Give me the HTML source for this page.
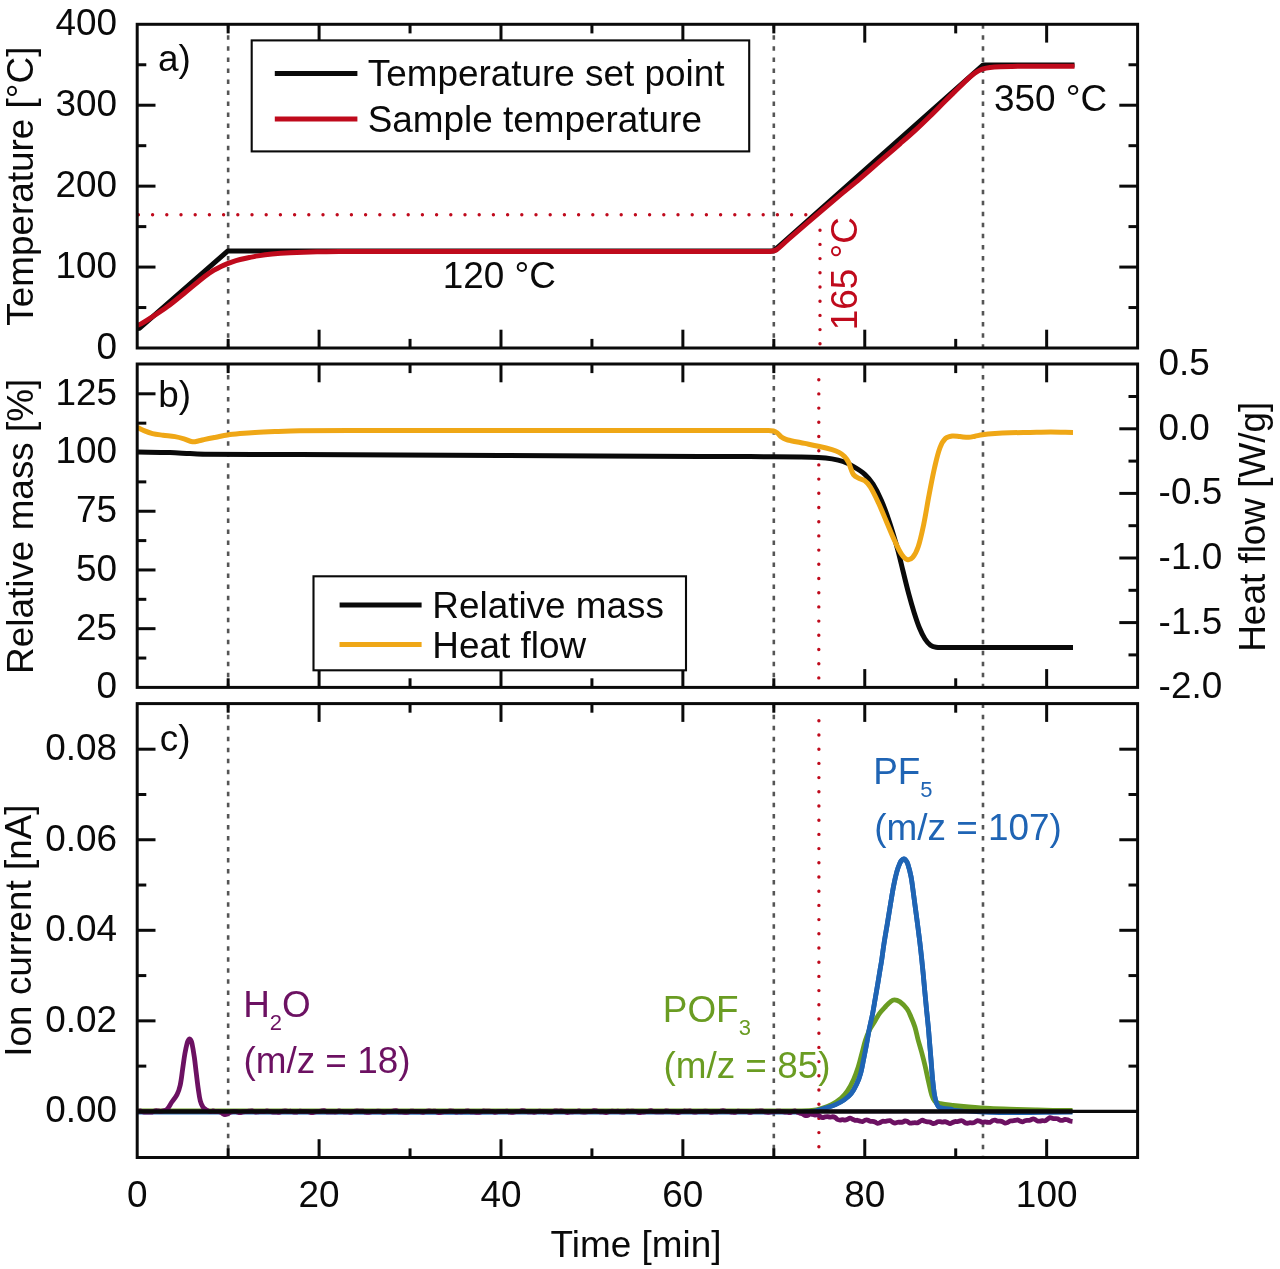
<!DOCTYPE html>
<html lang="en">
<head>
<meta charset="utf-8">
<title>Thermal analysis: temperature, relative mass / heat flow, ion current vs. time</title>
<style>
html,body{margin:0;padding:0;background:#fff;}
body{width:1280px;height:1269px;overflow:hidden;}
svg{display:block;}
svg text{font-family:"Liberation Sans",sans-serif;}
</style>
</head>
<body>
<svg width="1280" height="1269" viewBox="0 0 1280 1269">
<rect x="0" y="0" width="1280" height="1269" fill="#ffffff"/>
<line x1="228.15" y1="24.3" x2="228.15" y2="348" stroke="#555555" stroke-width="2.6" stroke-dasharray="4.5 6.53"/>
<line x1="773.82" y1="24.3" x2="773.82" y2="348" stroke="#555555" stroke-width="2.6" stroke-dasharray="4.5 6.53"/>
<line x1="982.99" y1="24.3" x2="982.99" y2="348" stroke="#555555" stroke-width="2.6" stroke-dasharray="4.5 6.53"/>
<line x1="138.4" y1="214.8" x2="812" y2="214.8" stroke="#bf0a1c" stroke-width="3.4" stroke-linecap="round" stroke-dasharray="0 14.2"/>
<path d="M137.2 328.4L139.6 328.2L227.85 250.9L773.82 250.9L983.19 64.9L1074.5 64.9" fill="none" stroke="#0a0a0a" stroke-width="5" stroke-linejoin="round" stroke-linecap="butt" />
<path d="M137.2 325.4C138.47 324.9 139.81 324.55 141 323.9C144.08 322.21 147.06 320.32 150 318.4C155.89 314.55 161.84 310.78 167.5 306.6C173.85 301.91 179.87 296.77 186 291.8C192.37 286.64 198.51 281.21 205 276.2C207.85 274 210.93 272.08 214 270.2C216.26 268.81 218.61 267.57 221 266.4C223.12 265.36 225.3 264.45 227.5 263.6C230.3 262.52 233.12 261.44 236 260.6C239.29 259.64 242.65 258.92 246 258.2C249.98 257.35 253.98 256.53 258 255.9C262.65 255.17 267.32 254.55 272 254.1C277.99 253.52 283.99 253.11 290 252.8C298.99 252.34 308 252.01 317 251.8C328 251.54 339 251.53 350 251.4L770.82 251.4C772.65 250.9 774.77 251 776.32 249.9C781.28 246.38 785.4 241.79 790 237.8C799.96 229.16 809.96 220.55 820 212C826.63 206.35 833.32 200.78 840 195.2C846.65 189.65 853.4 184.21 860 178.6C866.73 172.88 873.33 167 880 161.2C886.67 155.4 893.36 149.63 900 143.8C905.36 139.1 910.75 134.43 916 129.6C920.75 125.23 925.38 120.72 930 116.2C935.05 111.25 939.98 106.18 945 101.2C948.31 97.91 951.66 94.66 955 91.4C958 88.46 960.96 85.49 964 82.6C966.63 80.09 969.18 77.49 972 75.2C973.86 73.68 975.91 72.39 978 71.2C979.59 70.29 981.25 69.44 983 68.9C985.27 68.2 987.64 67.81 990 67.5C993.32 67.07 996.66 66.87 1000 66.7C1004 66.5 1008 66.46 1012 66.4C1017.33 66.32 1022.67 66.33 1028 66.3C1035.33 66.26 1042.67 66.22 1050 66.2C1058.17 66.18 1066.33 66.2 1074.5 66.2" fill="none" stroke="#bf0a1c" stroke-width="5" stroke-linejoin="round" stroke-linecap="butt" />
<line x1="820" y1="230.2" x2="820" y2="348" stroke="#bf0a1c" stroke-width="3.4" stroke-linecap="round" stroke-dasharray="0 14.2"/>
<line x1="228.15" y1="24.3" x2="228.15" y2="33.4" stroke="#0a0a0a" stroke-width="3" />
<line x1="228.15" y1="348" x2="228.15" y2="338.9" stroke="#0a0a0a" stroke-width="3" />
<line x1="319.09" y1="24.3" x2="319.09" y2="42.6" stroke="#0a0a0a" stroke-width="3" />
<line x1="319.09" y1="348" x2="319.09" y2="329.7" stroke="#0a0a0a" stroke-width="3" />
<line x1="410.04" y1="24.3" x2="410.04" y2="33.4" stroke="#0a0a0a" stroke-width="3" />
<line x1="410.04" y1="348" x2="410.04" y2="338.9" stroke="#0a0a0a" stroke-width="3" />
<line x1="500.98" y1="24.3" x2="500.98" y2="42.6" stroke="#0a0a0a" stroke-width="3" />
<line x1="500.98" y1="348" x2="500.98" y2="329.7" stroke="#0a0a0a" stroke-width="3" />
<line x1="591.93" y1="24.3" x2="591.93" y2="33.4" stroke="#0a0a0a" stroke-width="3" />
<line x1="591.93" y1="348" x2="591.93" y2="338.9" stroke="#0a0a0a" stroke-width="3" />
<line x1="682.87" y1="24.3" x2="682.87" y2="42.6" stroke="#0a0a0a" stroke-width="3" />
<line x1="682.87" y1="348" x2="682.87" y2="329.7" stroke="#0a0a0a" stroke-width="3" />
<line x1="773.82" y1="24.3" x2="773.82" y2="33.4" stroke="#0a0a0a" stroke-width="3" />
<line x1="773.82" y1="348" x2="773.82" y2="338.9" stroke="#0a0a0a" stroke-width="3" />
<line x1="864.76" y1="24.3" x2="864.76" y2="42.6" stroke="#0a0a0a" stroke-width="3" />
<line x1="864.76" y1="348" x2="864.76" y2="329.7" stroke="#0a0a0a" stroke-width="3" />
<line x1="955.71" y1="24.3" x2="955.71" y2="33.4" stroke="#0a0a0a" stroke-width="3" />
<line x1="955.71" y1="348" x2="955.71" y2="338.9" stroke="#0a0a0a" stroke-width="3" />
<line x1="1046.65" y1="24.3" x2="1046.65" y2="42.6" stroke="#0a0a0a" stroke-width="3" />
<line x1="1046.65" y1="348" x2="1046.65" y2="329.7" stroke="#0a0a0a" stroke-width="3" />
<line x1="137.2" y1="267.07" x2="155.5" y2="267.07" stroke="#0a0a0a" stroke-width="3" />
<line x1="1137.6" y1="267.07" x2="1119.3" y2="267.07" stroke="#0a0a0a" stroke-width="3" />
<line x1="137.2" y1="186.15" x2="155.5" y2="186.15" stroke="#0a0a0a" stroke-width="3" />
<line x1="1137.6" y1="186.15" x2="1119.3" y2="186.15" stroke="#0a0a0a" stroke-width="3" />
<line x1="137.2" y1="105.22" x2="155.5" y2="105.22" stroke="#0a0a0a" stroke-width="3" />
<line x1="1137.6" y1="105.22" x2="1119.3" y2="105.22" stroke="#0a0a0a" stroke-width="3" />
<line x1="137.2" y1="307.54" x2="146.3" y2="307.54" stroke="#0a0a0a" stroke-width="3" />
<line x1="1137.6" y1="307.54" x2="1128.5" y2="307.54" stroke="#0a0a0a" stroke-width="3" />
<line x1="137.2" y1="226.61" x2="146.3" y2="226.61" stroke="#0a0a0a" stroke-width="3" />
<line x1="1137.6" y1="226.61" x2="1128.5" y2="226.61" stroke="#0a0a0a" stroke-width="3" />
<line x1="137.2" y1="145.69" x2="146.3" y2="145.69" stroke="#0a0a0a" stroke-width="3" />
<line x1="1137.6" y1="145.69" x2="1128.5" y2="145.69" stroke="#0a0a0a" stroke-width="3" />
<line x1="137.2" y1="64.76" x2="146.3" y2="64.76" stroke="#0a0a0a" stroke-width="3" />
<line x1="1137.6" y1="64.76" x2="1128.5" y2="64.76" stroke="#0a0a0a" stroke-width="3" />
<rect x="137.2" y="24.3" width="1000.4" height="323.7" fill="none" stroke="#0a0a0a" stroke-width="3"/>
<rect x="251.7" y="40.4" width="497.5" height="111.0" fill="#fff" stroke="#0a0a0a" stroke-width="2.1"/>
<line x1="274.8" y1="73.4" x2="357.4" y2="73.4" stroke="#0a0a0a" stroke-width="5" />
<line x1="274.8" y1="119" x2="357.4" y2="119" stroke="#bf0a1c" stroke-width="5" />
<text x="367.7" y="85.6" text-anchor="start" fill="#0a0a0a" font-size="36.9" >Temperature set point</text>
<text x="367.7" y="131.6" text-anchor="start" fill="#0a0a0a" font-size="36.9" >Sample temperature</text>
<text x="158" y="71.2" text-anchor="start" fill="#0a0a0a" font-size="36.9" >a)</text>
<text x="442.7" y="287.8" text-anchor="start" fill="#0a0a0a" font-size="36.9" >120 °C</text>
<text x="994" y="110.6" text-anchor="start" fill="#0a0a0a" font-size="36.9" >350 °C</text>
<text x="857.2" y="330.2" text-anchor="start" fill="#bf0a1c" font-size="36.9" transform="rotate(-90 857.2 330.2)" >165 °C</text>
<text x="117" y="358.5" text-anchor="end" fill="#0a0a0a" font-size="36.9" >0</text>
<text x="117" y="277.57" text-anchor="end" fill="#0a0a0a" font-size="36.9" >100</text>
<text x="117" y="196.65" text-anchor="end" fill="#0a0a0a" font-size="36.9" >200</text>
<text x="117" y="115.72" text-anchor="end" fill="#0a0a0a" font-size="36.9" >300</text>
<text x="117" y="34.8" text-anchor="end" fill="#0a0a0a" font-size="36.9" >400</text>
<text x="33.4" y="186.15" text-anchor="middle" fill="#0a0a0a" font-size="36.9" transform="rotate(-90 33.4 186.15)" >Temperature [°C]</text>
<line x1="228.15" y1="364" x2="228.15" y2="687.4" stroke="#555555" stroke-width="2.6" stroke-dasharray="4.5 6.53"/>
<line x1="773.82" y1="364" x2="773.82" y2="687.4" stroke="#555555" stroke-width="2.6" stroke-dasharray="4.5 6.53"/>
<line x1="982.99" y1="364" x2="982.99" y2="687.4" stroke="#555555" stroke-width="2.6" stroke-dasharray="4.5 6.53"/>
<line x1="818.8" y1="379.7" x2="818.8" y2="687.4" stroke="#bf0a1c" stroke-width="3.4" stroke-linecap="round" stroke-dasharray="0 14.2"/>
<path d="M137.2 452C148.13 452.2 159.07 452.27 170 452.6C176.67 452.8 183.33 453.3 190 453.6C195 453.83 200 454.15 205 454.2C236.67 454.49 268.33 454.47 300 454.6C366.67 454.87 433.33 455.1 500 455.4C566.67 455.7 633.33 456.08 700 456.4C716.67 456.48 733.33 456.5 750 456.6C766.67 456.7 783.33 456.78 800 457C806.14 457.08 812.28 457.14 818.4 457.5C822.95 457.77 827.5 458.17 832 458.9C835.72 459.5 839.45 460.23 843 461.5C846.83 462.88 850.49 464.74 854 466.8C857.78 469.02 861.57 471.34 864.8 474.3C867.96 477.19 870.7 480.58 873 484.2C876.24 489.3 878.9 494.76 881.3 500.3C884.4 507.45 887.04 514.81 889.5 522.2C892.5 531.21 895.17 540.34 897.7 549.5C899.7 556.75 901.28 564.1 903.1 571.4C904.92 578.7 906.65 586.03 908.6 593.3C910.32 599.7 912.11 606.08 914.1 612.4C915.75 617.65 917.41 622.91 919.5 628C921.05 631.79 922.79 635.55 925 639C926.49 641.33 928.29 643.54 930.5 645.2C932.07 646.38 934.06 646.99 936 647.3C938.96 647.77 942 647.5 945 647.5C987.67 647.56 1030.33 647.5 1073 647.5" fill="none" stroke="#0a0a0a" stroke-width="5" stroke-linejoin="round" stroke-linecap="butt" />
<path d="M137.2 427.3C139.47 428.4 141.67 429.64 144 430.6C146.78 431.74 149.58 432.89 152.5 433.6C155.94 434.43 159.49 434.73 163 435.2C166.99 435.73 171.03 435.92 175 436.6C178.04 437.12 181.04 437.92 184 438.8C186.88 439.66 189.52 441.4 192.5 441.8C194.67 442.09 196.85 441.21 199 440.8C201.02 440.41 202.99 439.83 205 439.4C208.66 438.63 212.33 437.92 216 437.2C219.83 436.45 223.64 435.58 227.5 435C231.65 434.38 235.83 433.99 240 433.6C244.99 433.13 249.99 432.7 255 432.4C261.66 432 268.33 431.74 275 431.5C283.33 431.2 291.66 430.86 300 430.8C333.33 430.56 366.67 430.62 400 430.6C466.67 430.56 533.33 430.6 600 430.6C656 430.6 712 430.47 768 430.6C769.8 430.6 771.65 430.55 773.4 431C774.81 431.37 776.13 432.12 777.3 433C778.83 434.15 779.86 435.87 781.4 437C782.79 438.02 784.39 438.78 786 439.4C787.61 440.02 789.32 440.34 791 440.7C795.55 441.67 800.14 442.48 804.7 443.4C809.27 444.32 813.86 445.15 818.4 446.2C822.96 447.25 827.52 448.35 832 449.7C834.39 450.42 836.8 451.22 839 452.4C841 453.47 842.91 454.78 844.5 456.4C846.09 458.03 847.36 459.98 848.4 462C849.54 464.21 850.07 466.69 851 469C851.77 470.89 852.24 472.99 853.5 474.6C854.65 476.06 856.37 477.01 858 477.9C860.16 479.09 862.82 479.33 864.8 480.8C867.02 482.44 868.85 484.65 870.3 487C873.45 492.1 875.97 497.57 878.5 503C881.44 509.31 883.96 515.8 886.7 522.2C889.43 528.57 891.97 535.02 894.9 541.3C897.01 545.83 899.01 550.45 901.8 554.6C903.17 556.64 904.82 558.99 907.2 559.6C909.11 560.09 911.41 558.9 912.7 557.4C915.29 554.38 916.93 550.57 918.2 546.8C920.59 539.67 922.06 532.26 923.6 524.9C925.69 514.92 927.18 504.82 929.1 494.8C930.85 485.68 932.51 476.54 934.6 467.5C936.15 460.8 937.59 454.04 940 447.6C941.25 444.25 942.9 440.85 945.5 438.4C947.25 436.75 949.91 436.3 952.3 436C954.85 435.68 957.43 436.4 960 436.6C962.93 436.83 965.86 437.38 968.8 437.3C970.9 437.24 972.94 436.58 975 436.2C977.47 435.75 979.91 435.12 982.4 434.8C986.58 434.26 990.79 433.91 995 433.6C999.93 433.24 1004.86 432.97 1009.8 432.8C1016.53 432.57 1023.27 432.53 1030 432.4C1036.93 432.26 1043.87 432 1050.8 432C1058.2 432 1065.6 432.27 1073 432.4" fill="none" stroke="#efa716" stroke-width="5" stroke-linejoin="round" stroke-linecap="butt" />
<line x1="228.15" y1="364" x2="228.15" y2="373.1" stroke="#0a0a0a" stroke-width="3" />
<line x1="228.15" y1="687.4" x2="228.15" y2="678.3" stroke="#0a0a0a" stroke-width="3" />
<line x1="319.09" y1="364" x2="319.09" y2="382.3" stroke="#0a0a0a" stroke-width="3" />
<line x1="319.09" y1="687.4" x2="319.09" y2="669.1" stroke="#0a0a0a" stroke-width="3" />
<line x1="410.04" y1="364" x2="410.04" y2="373.1" stroke="#0a0a0a" stroke-width="3" />
<line x1="410.04" y1="687.4" x2="410.04" y2="678.3" stroke="#0a0a0a" stroke-width="3" />
<line x1="500.98" y1="364" x2="500.98" y2="382.3" stroke="#0a0a0a" stroke-width="3" />
<line x1="500.98" y1="687.4" x2="500.98" y2="669.1" stroke="#0a0a0a" stroke-width="3" />
<line x1="591.93" y1="364" x2="591.93" y2="373.1" stroke="#0a0a0a" stroke-width="3" />
<line x1="591.93" y1="687.4" x2="591.93" y2="678.3" stroke="#0a0a0a" stroke-width="3" />
<line x1="682.87" y1="364" x2="682.87" y2="382.3" stroke="#0a0a0a" stroke-width="3" />
<line x1="682.87" y1="687.4" x2="682.87" y2="669.1" stroke="#0a0a0a" stroke-width="3" />
<line x1="773.82" y1="364" x2="773.82" y2="373.1" stroke="#0a0a0a" stroke-width="3" />
<line x1="773.82" y1="687.4" x2="773.82" y2="678.3" stroke="#0a0a0a" stroke-width="3" />
<line x1="864.76" y1="364" x2="864.76" y2="382.3" stroke="#0a0a0a" stroke-width="3" />
<line x1="864.76" y1="687.4" x2="864.76" y2="669.1" stroke="#0a0a0a" stroke-width="3" />
<line x1="955.71" y1="364" x2="955.71" y2="373.1" stroke="#0a0a0a" stroke-width="3" />
<line x1="955.71" y1="687.4" x2="955.71" y2="678.3" stroke="#0a0a0a" stroke-width="3" />
<line x1="1046.65" y1="364" x2="1046.65" y2="382.3" stroke="#0a0a0a" stroke-width="3" />
<line x1="1046.65" y1="687.4" x2="1046.65" y2="669.1" stroke="#0a0a0a" stroke-width="3" />
<line x1="137.2" y1="628.68" x2="155.5" y2="628.68" stroke="#0a0a0a" stroke-width="3" />
<line x1="137.2" y1="569.96" x2="155.5" y2="569.96" stroke="#0a0a0a" stroke-width="3" />
<line x1="137.2" y1="511.24" x2="155.5" y2="511.24" stroke="#0a0a0a" stroke-width="3" />
<line x1="137.2" y1="452.52" x2="155.5" y2="452.52" stroke="#0a0a0a" stroke-width="3" />
<line x1="137.2" y1="393.8" x2="155.5" y2="393.8" stroke="#0a0a0a" stroke-width="3" />
<line x1="137.2" y1="658.04" x2="146.3" y2="658.04" stroke="#0a0a0a" stroke-width="3" />
<line x1="137.2" y1="599.32" x2="146.3" y2="599.32" stroke="#0a0a0a" stroke-width="3" />
<line x1="137.2" y1="540.6" x2="146.3" y2="540.6" stroke="#0a0a0a" stroke-width="3" />
<line x1="137.2" y1="481.88" x2="146.3" y2="481.88" stroke="#0a0a0a" stroke-width="3" />
<line x1="137.2" y1="423.16" x2="146.3" y2="423.16" stroke="#0a0a0a" stroke-width="3" />
<line x1="1137.6" y1="428.8" x2="1119.3" y2="428.8" stroke="#0a0a0a" stroke-width="3" />
<line x1="1137.6" y1="493.4" x2="1119.3" y2="493.4" stroke="#0a0a0a" stroke-width="3" />
<line x1="1137.6" y1="558" x2="1119.3" y2="558" stroke="#0a0a0a" stroke-width="3" />
<line x1="1137.6" y1="622.6" x2="1119.3" y2="622.6" stroke="#0a0a0a" stroke-width="3" />
<line x1="1137.6" y1="396.5" x2="1128.5" y2="396.5" stroke="#0a0a0a" stroke-width="3" />
<line x1="1137.6" y1="461.1" x2="1128.5" y2="461.1" stroke="#0a0a0a" stroke-width="3" />
<line x1="1137.6" y1="525.7" x2="1128.5" y2="525.7" stroke="#0a0a0a" stroke-width="3" />
<line x1="1137.6" y1="590.3" x2="1128.5" y2="590.3" stroke="#0a0a0a" stroke-width="3" />
<line x1="1137.6" y1="654.9" x2="1128.5" y2="654.9" stroke="#0a0a0a" stroke-width="3" />
<rect x="137.2" y="364" width="1000.4" height="323.4" fill="none" stroke="#0a0a0a" stroke-width="3"/>
<rect x="313.5" y="576.3" width="372.5" height="94.0" fill="#fff" stroke="#0a0a0a" stroke-width="2.1"/>
<line x1="339.6" y1="605" x2="421.6" y2="605" stroke="#0a0a0a" stroke-width="5" />
<line x1="339.5" y1="644.6" x2="421.6" y2="644.6" stroke="#efa716" stroke-width="5" />
<text x="432.3" y="618.1" text-anchor="start" fill="#0a0a0a" font-size="36.9" >Relative mass</text>
<text x="432.3" y="657.5" text-anchor="start" fill="#0a0a0a" font-size="36.9" >Heat flow</text>
<text x="158.2" y="407" text-anchor="start" fill="#0a0a0a" font-size="36.9" >b)</text>
<text x="117" y="698.3" text-anchor="end" fill="#0a0a0a" font-size="36.9" >0</text>
<text x="117" y="639.58" text-anchor="end" fill="#0a0a0a" font-size="36.9" >25</text>
<text x="117" y="580.86" text-anchor="end" fill="#0a0a0a" font-size="36.9" >50</text>
<text x="117" y="522.14" text-anchor="end" fill="#0a0a0a" font-size="36.9" >75</text>
<text x="117" y="463.42" text-anchor="end" fill="#0a0a0a" font-size="36.9" >100</text>
<text x="117" y="404.7" text-anchor="end" fill="#0a0a0a" font-size="36.9" >125</text>
<text x="1158.6" y="375.1" text-anchor="start" fill="#0a0a0a" font-size="36.9" >0.5</text>
<text x="1158.6" y="439.7" text-anchor="start" fill="#0a0a0a" font-size="36.9" >0.0</text>
<text x="1158.6" y="504.3" text-anchor="start" fill="#0a0a0a" font-size="36.9" >-0.5</text>
<text x="1158.6" y="568.9" text-anchor="start" fill="#0a0a0a" font-size="36.9" >-1.0</text>
<text x="1158.6" y="633.5" text-anchor="start" fill="#0a0a0a" font-size="36.9" >-1.5</text>
<text x="1158.6" y="698.1" text-anchor="start" fill="#0a0a0a" font-size="36.9" >-2.0</text>
<text x="33.3" y="526.3" text-anchor="middle" fill="#0a0a0a" font-size="36.9" transform="rotate(-90 33.3 526.3)" >Relative mass [%]</text>
<text x="1264.6" y="526.7" text-anchor="middle" fill="#0a0a0a" font-size="36.9" transform="rotate(-90 1264.6 526.7)" >Heat flow [W/g]</text>
<line x1="228.15" y1="703.6" x2="228.15" y2="1157.5" stroke="#555555" stroke-width="2.6" stroke-dasharray="4.5 6.53"/>
<line x1="773.82" y1="703.6" x2="773.82" y2="1157.5" stroke="#555555" stroke-width="2.6" stroke-dasharray="4.5 6.53"/>
<line x1="982.99" y1="703.6" x2="982.99" y2="1157.5" stroke="#555555" stroke-width="2.6" stroke-dasharray="4.5 6.53"/>
<line x1="818.9" y1="720.8" x2="818.9" y2="1157.5" stroke="#bf0a1c" stroke-width="3.4" stroke-linecap="round" stroke-dasharray="0 14.2"/>
<path d="M137.2 1112.1C358.13 1112.1 579.07 1112.46 800 1112.1C805.01 1112.09 810.04 1111.74 815 1111C817.94 1110.56 820.76 1109.49 823.6 1108.6C827.59 1107.35 831.65 1106.23 835.5 1104.6C838.51 1103.32 841.42 1101.77 844.1 1099.9C846.69 1098.08 849.23 1096.07 851.2 1093.6C853.48 1090.74 855.16 1087.42 856.7 1084.1C858.34 1080.56 859.65 1076.86 860.7 1073.1C861.89 1068.87 862.53 1064.51 863.4 1060.2C864.36 1055.47 865.3 1050.74 866.2 1046C867.24 1040.51 868.11 1034.98 869.2 1029.5C870.15 1024.72 871.36 1019.99 872.3 1015.2C873.33 1009.95 874.18 1004.67 875.1 999.4C876.02 994.14 876.92 988.87 877.8 983.6C878.55 979.14 879.26 974.67 880 970.2C880.56 966.8 881.19 963.41 881.7 960C882.45 955.01 883.03 949.99 883.8 945C884.89 937.92 886.14 930.87 887.3 923.8C888.38 917.23 889.41 910.66 890.5 904.1C891.51 898.06 892.43 892.01 893.6 886C894.53 881.24 895.51 876.48 896.8 871.8C897.62 868.83 898.66 865.92 899.9 863.1C900.4 861.96 901.13 860.89 902 860C902.5 859.49 903.19 858.96 903.9 859C904.65 859.04 905.33 859.61 905.8 860.2C906.67 861.3 907.37 862.56 907.8 863.9C909.12 868.03 910.18 872.25 911 876.5C912.01 881.73 912.57 887.03 913.3 892.3C914.14 898.33 914.9 904.37 915.7 910.4C916.47 916.17 917.25 921.93 918 927.7C918.62 932.46 919.23 937.23 919.8 942C920.43 947.33 921.03 952.66 921.6 958C922.09 962.6 922.56 967.2 923 971.8C923.63 978.36 924.18 984.93 924.8 991.5C925.42 998.07 926.05 1004.63 926.7 1011.2C927.22 1016.47 927.81 1021.73 928.3 1027C928.78 1032.23 929.17 1037.47 929.6 1042.7C930.07 1048.37 930.54 1054.03 931 1059.7C931.54 1066.27 931.95 1072.84 932.6 1079.4C933.12 1084.68 933.64 1089.97 934.5 1095.2C934.94 1097.85 935.51 1100.51 936.5 1103C937.13 1104.59 937.71 1106.67 939.3 1107.3C943.6 1109 948.4 1109.04 953 1109.5C965.31 1110.74 977.63 1112.13 990 1112.4C1017.49 1113 1045 1112.2 1072.5 1112.1" fill="none" stroke="#1f64b4" stroke-width="4.8" stroke-linejoin="round" stroke-linecap="butt" />
<path d="M137.2 1110.9C356.47 1110.9 575.73 1111.06 795 1110.9C800.67 1110.9 806.36 1110.96 812 1110.4C815.4 1110.06 818.73 1109.17 822 1108.2C825.25 1107.23 828.5 1106.16 831.5 1104.6C834.87 1102.84 838.1 1100.76 841 1098.3C843.41 1096.25 845.54 1093.83 847.3 1091.2C849.77 1087.49 851.77 1083.46 853.6 1079.4C855.44 1075.31 856.95 1071.08 858.3 1066.8C859.86 1061.86 860.96 1056.8 862.3 1051.8C863.36 1047.86 864.22 1043.87 865.5 1040C866.63 1036.59 867.9 1033.21 869.5 1030C870.98 1027.03 872.98 1024.34 874.7 1021.5C876.28 1018.88 877.59 1016.07 879.4 1013.6C881.27 1011.05 883.54 1008.81 885.7 1006.5C887.21 1004.88 888.64 1003.15 890.4 1001.8C891.58 1000.89 892.91 999.8 894.4 999.8C896.35 999.8 898.32 1000.66 899.9 1001.8C902.61 1003.76 905.01 1006.21 907 1008.9C908.73 1011.24 909.74 1014.04 910.9 1016.7C912.37 1020.08 913.8 1023.48 914.9 1027C916.18 1031.1 916.89 1035.35 918 1039.5C919.16 1043.85 920.53 1048.15 921.7 1052.5C922.86 1056.82 923.98 1061.15 925 1065.5C926.28 1070.98 927.34 1076.51 928.6 1082C929.61 1086.41 930.39 1090.9 931.8 1095.2C932.53 1097.44 933.32 1099.85 935 1101.5C936.38 1102.85 938.51 1103.19 940.4 1103.6C944.55 1104.5 948.79 1104.9 953 1105.4C958.26 1106.03 963.52 1106.56 968.8 1107C975.86 1107.59 982.92 1108.15 990 1108.5C998.99 1108.95 1008 1109.12 1017 1109.4C1023.1 1109.59 1029.2 1109.75 1035.3 1109.9C1041.2 1110.05 1047.1 1110.2 1053 1110.3C1059.5 1110.4 1066 1110.43 1072.5 1110.5" fill="none" stroke="#6a9c22" stroke-width="4.8" stroke-linejoin="round" stroke-linecap="butt" />
<path d="M800 1112.1C805 1111.73 810.04 1111.74 815 1111C817.94 1110.56 820.76 1109.49 823.6 1108.6C827.59 1107.35 831.65 1106.23 835.5 1104.6C838.51 1103.32 841.42 1101.77 844.1 1099.9C846.69 1098.08 849.23 1096.07 851.2 1093.6C853.48 1090.74 855.16 1087.42 856.7 1084.1C858.34 1080.56 859.65 1076.86 860.7 1073.1C861.89 1068.87 862.53 1064.51 863.4 1060.2C864.36 1055.47 865.3 1050.74 866.2 1046C867.24 1040.51 868.11 1034.98 869.2 1029.5C870.15 1024.72 871.36 1019.99 872.3 1015.2C873.33 1009.95 874.18 1004.67 875.1 999.4C876.02 994.14 876.92 988.87 877.8 983.6C878.55 979.14 879.26 974.67 880 970.2C880.56 966.8 881.19 963.41 881.7 960C882.45 955.01 883.03 949.99 883.8 945C884.89 937.92 886.14 930.87 887.3 923.8C888.38 917.23 889.41 910.66 890.5 904.1C891.51 898.06 892.43 892.01 893.6 886C894.53 881.24 895.51 876.48 896.8 871.8C897.62 868.83 898.66 865.92 899.9 863.1C900.4 861.96 901.13 860.89 902 860C902.5 859.49 903.19 858.96 903.9 859C904.65 859.04 905.33 859.61 905.8 860.2C906.67 861.3 907.37 862.56 907.8 863.9C909.12 868.03 910.18 872.25 911 876.5C912.01 881.73 912.57 887.03 913.3 892.3C914.14 898.33 914.9 904.37 915.7 910.4C916.47 916.17 917.25 921.93 918 927.7C918.62 932.46 919.23 937.23 919.8 942C920.43 947.33 921.03 952.66 921.6 958C922.09 962.6 922.56 967.2 923 971.8C923.63 978.36 924.18 984.93 924.8 991.5C925.42 998.07 926.05 1004.63 926.7 1011.2C927.22 1016.47 927.81 1021.73 928.3 1027C928.78 1032.23 929.17 1037.47 929.6 1042.7C930.07 1048.37 930.54 1054.03 931 1059.7C931.54 1066.27 931.95 1072.84 932.6 1079.4C933.12 1084.68 933.64 1089.97 934.5 1095.2C934.94 1097.85 935.51 1100.51 936.5 1103C937.13 1104.59 937.71 1106.67 939.3 1107.3C943.6 1109 948.43 1108.77 953 1109.5" fill="none" stroke="#1f64b4" stroke-width="4.8" stroke-linejoin="round" stroke-linecap="butt" />
<path d="M137.2 1111.57C138.2 1111.36 139.18 1110.89 140.2 1110.94C141.24 1110.99 142.17 1111.66 143.2 1111.85C144.19 1112.02 145.2 1111.99 146.2 1112.02C147.2 1112.04 148.2 1112 149.2 1112C150.2 1112.01 151.22 1112.24 152.2 1112.05C153.26 1111.84 154.14 1111.04 155.2 1110.84C156.18 1110.65 157.2 1110.81 158.2 1110.9C159.21 1110.98 160.2 1111.5 161.2 1111.34C163.13 1111.05 165.32 1110.87 166.8 1109.6C168.95 1107.75 169.9 1104.85 171.5 1102.5C173.3 1099.85 175.56 1097.47 177 1094.6C178.49 1091.64 179.48 1088.43 180.2 1085.2C181.36 1080 181.82 1074.67 182.6 1069.4C183.38 1064.14 183.98 1058.84 184.9 1053.6C185.55 1049.9 186.33 1046.22 187.3 1042.6C187.57 1041.61 188.05 1040.67 188.6 1039.8C188.83 1039.44 189.18 1038.96 189.6 1039C190.09 1039.05 190.46 1039.56 190.7 1040C191.28 1041.07 191.75 1042.21 192 1043.4C192.99 1048.1 193.72 1052.85 194.4 1057.6C195.15 1062.82 195.65 1068.07 196.3 1073.3C196.95 1078.57 197.54 1083.85 198.3 1089.1C198.87 1093.05 199.3 1097.04 200.3 1100.9C200.87 1103.11 201.74 1105.3 203 1107.2C203.76 1108.35 205.04 1109.06 206.2 1109.8C207.39 1110.57 208.6 1111.46 210 1111.7C211.01 1111.88 211.97 1110.99 213 1110.99C214.03 1110.99 214.98 1111.6 216 1111.7C217 1111.8 218.02 1111.35 219 1111.57C220.09 1111.81 221.01 1112.52 222 1113.04C223.01 1113.57 223.86 1114.61 225 1114.69C226.08 1114.77 227.01 1113.92 228 1113.48C229.02 1113.03 229.95 1112.4 231 1112.02C231.97 1111.67 232.97 1111.34 234 1111.31C235.02 1111.28 236.01 1111.63 237 1111.86C238.01 1112.09 238.96 1112.68 240 1112.67C241.04 1112.66 241.98 1112.01 243 1111.82C243.99 1111.63 245 1111.63 246 1111.54C247 1111.44 248 1111.34 249 1111.24C250 1111.13 251 1110.79 252 1110.91C253.05 1111.03 253.96 1111.78 255 1111.95C255.99 1112.1 257 1111.93 258 1111.87C259 1111.81 260 1111.63 261 1111.58C262 1111.53 263.01 1111.71 264 1111.58C265.03 1111.45 265.97 1110.81 267 1110.79C268.03 1110.78 269 1111.25 270 1111.48C271 1111.71 271.98 1112.07 273 1112.17C274 1112.26 275 1112.02 276 1112.06C277.01 1112.09 278 1112.49 279 1112.38C280.05 1112.25 280.98 1111.62 282 1111.36C282.98 1111.1 283.98 1110.83 285 1110.83C286.02 1110.83 286.99 1111.29 288 1111.36C289 1111.44 290.01 1111.17 291 1111.28C292.03 1111.4 292.97 1111.93 294 1112.06C294.99 1112.18 296.01 1112.17 297 1112.02C298.03 1111.87 298.96 1111.26 300 1111.16C301 1111.07 302 1111.44 303 1111.46C304 1111.49 305 1111.23 306 1111.29C307.01 1111.35 308.01 1111.59 309 1111.8C310.01 1112.02 310.97 1112.59 312 1112.58C313.04 1112.58 313.98 1111.96 315 1111.78C315.99 1111.61 317 1111.66 318 1111.54C319.01 1111.41 320 1111.18 321 1111.04C322 1110.89 323 1110.54 324 1110.67C325.06 1110.8 325.95 1111.58 327 1111.79C327.98 1111.99 329 1111.87 330 1111.89C331 1111.91 332 1111.92 333 1111.92C334 1111.93 335.01 1112.09 336 1111.93C337.04 1111.77 337.95 1111.06 339 1110.98C340.01 1110.91 341 1111.32 342 1111.48C343 1111.64 343.99 1111.85 345 1111.92C346 1111.99 347 1111.82 348 1111.88C349.01 1111.95 349.99 1112.41 351 1112.31C352.05 1112.21 352.98 1111.55 354 1111.29C354.98 1111.04 355.99 1110.81 357 1110.79C358.01 1110.78 358.99 1111.14 360 1111.21C361 1111.27 362.01 1111.02 363 1111.18C364.04 1111.36 364.96 1112.02 366 1112.21C366.98 1112.39 368.01 1112.4 369 1112.29C370.03 1112.17 370.97 1111.63 372 1111.52C372.99 1111.41 374 1111.7 375 1111.64C376.01 1111.57 376.99 1111.14 378 1111.12C379.01 1111.11 380.01 1111.35 381 1111.55C382.01 1111.75 382.97 1112.28 384 1112.3C385.02 1112.32 385.98 1111.78 387 1111.66C387.99 1111.55 389.01 1111.71 390 1111.61C391.01 1111.5 391.99 1111.19 393 1111.04C394 1110.88 395 1110.55 396 1110.68C397.06 1110.81 397.96 1111.58 399 1111.8C399.98 1112.01 401 1111.9 402 1111.97C403 1112.04 404 1112.19 405 1112.23C406 1112.26 407.02 1112.37 408 1112.18C409.05 1111.97 409.94 1111.2 411 1111.05C411.99 1110.91 413 1111.24 414 1111.32C415 1111.4 416 1111.47 417 1111.52C418 1111.56 419.01 1111.49 420 1111.61C421.02 1111.73 421.98 1112.29 423 1112.25C424.04 1112.2 424.98 1111.58 426 1111.37C426.99 1111.16 427.99 1111.02 429 1111C430 1110.99 431 1111.25 432 1111.28C433 1111.31 434.01 1111.04 435 1111.21C436.05 1111.39 436.95 1112.12 438 1112.33C438.98 1112.53 440 1112.52 441 1112.41C442.02 1112.31 442.98 1111.84 444 1111.71C444.99 1111.58 446.01 1111.79 447 1111.65C448.02 1111.5 448.97 1110.92 450 1110.84C451.01 1110.77 452.01 1111.03 453 1111.22C454.01 1111.42 454.97 1111.93 456 1112C457 1112.07 457.99 1111.66 459 1111.64C460 1111.62 461 1111.93 462 1111.87C463.02 1111.8 463.99 1111.43 465 1111.26C466 1111.1 467 1110.77 468 1110.86C469.05 1110.96 469.96 1111.65 471 1111.83C471.99 1112.01 473 1111.84 474 1111.92C475.01 1112 475.99 1112.27 477 1112.32C478 1112.36 479.02 1112.43 480 1112.21C481.05 1111.98 481.94 1111.18 483 1110.99C483.99 1110.81 485 1111.1 486 1111.13C487 1111.15 488 1111.1 489 1111.15C490 1111.2 491.01 1111.24 492 1111.43C493.02 1111.63 493.96 1112.28 495 1112.32C496.03 1112.35 496.99 1111.79 498 1111.63C498.99 1111.48 500 1111.42 501 1111.39C502 1111.35 503 1111.47 504 1111.43C505 1111.4 506.01 1111.04 507 1111.18C508.05 1111.32 508.96 1112.05 510 1112.24C510.98 1112.42 512 1112.37 513 1112.28C514.01 1112.19 514.99 1111.83 516 1111.71C516.99 1111.6 518.01 1111.77 519 1111.59C520.03 1111.41 520.96 1110.73 522 1110.64C523 1110.55 524.01 1110.84 525 1111.04C526.02 1111.24 526.97 1111.73 528 1111.85C528.99 1111.97 530 1111.7 531 1111.77C532.01 1111.83 532.99 1112.27 534 1112.24C535.02 1112.21 536 1111.77 537 1111.57C538 1111.37 538.99 1111.01 540 1111.04C541.03 1111.07 541.98 1111.62 543 1111.73C544 1111.83 545 1111.58 546 1111.65C547.01 1111.73 547.99 1112.1 549 1112.17C550 1112.25 551.02 1112.31 552 1112.11C553.05 1111.9 553.95 1111.15 555 1110.97C555.99 1110.8 557 1111.09 558 1111.09C559 1111.09 560 1110.94 561 1110.99C562.01 1111.05 563.02 1111.18 564 1111.43C565.03 1111.68 565.94 1112.39 567 1112.48C568.01 1112.56 568.99 1112.05 570 1111.93C570.99 1111.8 572 1111.81 573 1111.74C574 1111.66 575 1111.6 576 1111.48C577.01 1111.35 577.99 1110.9 579 1110.98C580.05 1111.06 580.96 1111.77 582 1111.95C582.99 1112.11 584 1112.04 585 1111.99C586 1111.95 587 1111.74 588 1111.68C589 1111.63 590.01 1111.82 591 1111.65C592.04 1111.48 592.95 1110.76 594 1110.67C595.01 1110.57 596.01 1110.89 597 1111.09C598.01 1111.28 598.98 1111.7 600 1111.84C600.99 1111.98 602.01 1111.8 603 1111.92C604.01 1112.03 604.98 1112.56 606 1112.53C607.03 1112.5 608 1111.99 609 1111.75C610 1111.5 610.98 1111.13 612 1111.08C613.01 1111.03 613.99 1111.43 615 1111.46C616 1111.49 617 1111.17 618 1111.25C619.02 1111.34 619.98 1111.83 621 1111.96C621.99 1112.1 623.01 1112.2 624 1112.06C625.04 1111.92 625.96 1111.27 627 1111.14C627.99 1111.01 629 1111.32 630 1111.3C631 1111.28 632 1111 633 1111.04C634.01 1111.07 635.02 1111.25 636 1111.5C637.03 1111.76 637.94 1112.45 639 1112.55C640.01 1112.65 640.99 1112.16 642 1112.06C643 1111.95 644.01 1112.02 645 1111.91C646.01 1111.79 647 1111.58 648 1111.38C649 1111.18 649.98 1110.67 651 1110.71C652.04 1110.75 652.97 1111.44 654 1111.61C654.99 1111.78 656 1111.71 657 1111.73C658 1111.76 659 1111.76 660 1111.78C661 1111.81 662.01 1112.05 663 1111.91C664.04 1111.76 664.95 1111.03 666 1110.91C667 1110.81 668 1111.12 669 1111.26C670.01 1111.41 670.99 1111.69 672 1111.8C672.99 1111.9 674.01 1111.77 675 1111.9C676.02 1112.03 676.97 1112.61 678 1112.58C679.04 1112.55 679.99 1111.99 681 1111.73C681.99 1111.47 682.98 1111.12 684 1111.03C685 1110.94 686 1111.21 687 1111.2C688 1111.18 689 1110.82 690 1110.93C691.04 1111.05 691.97 1111.66 693 1111.87C693.98 1112.07 695 1112.23 696 1112.17C697.02 1112.1 697.98 1111.58 699 1111.49C700 1111.41 701 1111.7 702 1111.64C703.01 1111.58 703.99 1111.15 705 1111.12C706.01 1111.09 707.02 1111.25 708 1111.46C709.02 1111.68 709.96 1112.31 711 1112.39C712.01 1112.47 712.99 1112.02 714 1111.95C715 1111.87 716.01 1112.03 717 1111.92C718.02 1111.8 719 1111.49 720 1111.27C721 1111.04 721.97 1110.52 723 1110.55C724.04 1110.57 724.97 1111.25 726 1111.43C726.99 1111.61 728 1111.54 729 1111.64C730 1111.74 731 1111.92 732 1112.02C733 1112.12 734.01 1112.39 735 1112.26C736.05 1112.12 736.95 1111.36 738 1111.21C738.99 1111.06 740 1111.32 741 1111.38C742 1111.44 743 1111.54 744 1111.59C745 1111.63 746.01 1111.52 747 1111.66C748.02 1111.8 748.97 1112.43 750 1112.43C751.03 1112.42 751.99 1111.87 753 1111.64C753.99 1111.42 754.99 1111.15 756 1111.06C757 1110.97 758 1111.16 759 1111.12C760 1111.08 761 1110.69 762 1110.83C763.06 1110.97 763.97 1111.67 765 1111.93C765.98 1112.17 766.99 1112.34 768 1112.33C769.01 1112.32 769.99 1111.91 771 1111.84C772 1111.77 773.01 1112.04 774 1111.91C775.03 1111.78 775.97 1111.19 777 1111.08C778 1110.97 779.01 1111.13 780 1111.25C781.67 1111.44 783.33 1111.8 785 1112C785.83 1112.1 786.67 1112.04 787.5 1112.14C788.34 1112.25 789.16 1112.76 790 1112.63C790.92 1112.5 791.63 1111.74 792.5 1111.42C793.31 1111.13 794.15 1110.67 795 1110.81C795.95 1110.98 796.62 1111.88 797.5 1112.28C798.3 1112.64 799.16 1112.84 800 1113.09C800.83 1113.33 801.72 1113.39 802.5 1113.75C803.41 1114.18 804.05 1115.1 805 1115.43C805.79 1115.7 806.69 1115.71 807.5 1115.51C808.42 1115.28 809.08 1114.38 810 1114.18C810.82 1114.01 811.67 1114.31 812.5 1114.45C813.34 1114.58 814.15 1114.92 815 1115C815.83 1115.07 816.69 1114.68 817.5 1114.88C818.42 1115.11 819.17 1115.8 820 1116.26C820.83 1116.73 821.55 1117.54 822.5 1117.66C823.36 1117.78 824.15 1117.11 825 1116.93C825.82 1116.75 826.66 1116.56 827.5 1116.6C828.35 1116.64 829.15 1117.14 830 1117.16C830.84 1117.19 831.66 1116.71 832.5 1116.74C833.36 1116.77 834.25 1116.93 835 1117.35C835.96 1117.88 836.53 1118.97 837.5 1119.5C838.25 1119.91 839.15 1120.04 840 1120.08C840.84 1120.11 841.66 1119.69 842.5 1119.69C843.34 1119.7 844.16 1120.17 845 1120.11C845.87 1120.05 846.69 1119.67 847.5 1119.35C848.36 1119.01 849.07 1118.17 850 1118.14C850.9 1118.11 851.67 1118.82 852.5 1119.18C853.34 1119.54 854.11 1120.12 855 1120.31C855.81 1120.49 856.68 1120.14 857.5 1120.28C858.37 1120.42 859.15 1120.92 860 1121.14C860.82 1121.35 861.67 1121.73 862.5 1121.58C863.43 1121.4 864.09 1120.48 865 1120.2C865.8 1119.95 866.68 1119.87 867.5 1120.04C868.41 1120.22 869.11 1121 870 1121.24C870.81 1121.45 871.68 1121.24 872.5 1121.38C873.35 1121.52 874.2 1121.73 875 1122.06C875.88 1122.43 876.55 1123.33 877.5 1123.45C878.36 1123.56 879.2 1123.04 880 1122.69C880.88 1122.3 881.57 1121.51 882.5 1121.27C883.31 1121.06 884.17 1121.44 885 1121.39C885.84 1121.34 886.67 1121.1 887.5 1120.98C888.33 1120.85 889.18 1120.42 890 1120.62C890.96 1120.86 891.61 1121.78 892.5 1122.22C893.29 1122.62 894.11 1123.12 895 1123.13C895.88 1123.14 896.63 1122.42 897.5 1122.27C898.32 1122.13 899.17 1122.27 900 1122.25C900.83 1122.23 901.69 1122.36 902.5 1122.16C903.39 1121.94 904.09 1121.12 905 1121C905.85 1120.9 906.71 1121.21 907.5 1121.54C908.4 1121.92 909.05 1122.83 910 1123.09C910.81 1123.32 911.67 1122.99 912.5 1122.92C913.33 1122.85 914.16 1122.7 915 1122.69C915.84 1122.69 916.69 1123.1 917.5 1122.89C918.44 1122.65 919.14 1121.85 920 1121.4C920.81 1120.97 921.58 1120.28 922.5 1120.26C923.4 1120.24 924.14 1121.03 925 1121.31C925.81 1121.58 926.65 1121.78 927.5 1121.9C928.33 1122.03 929.2 1121.84 930 1122.07C930.9 1122.33 931.59 1123.13 932.5 1123.36C933.31 1123.56 934.21 1123.57 935 1123.31C935.94 1123.01 936.56 1122.04 937.5 1121.73C938.29 1121.47 939.17 1121.61 940 1121.67C940.84 1121.73 941.66 1122.08 942.5 1122.08C943.35 1122.07 944.16 1121.56 945 1121.65C945.88 1121.73 946.68 1122.24 947.5 1122.57C948.34 1122.91 949.09 1123.66 950 1123.65C950.92 1123.63 951.66 1122.86 952.5 1122.5C953.32 1122.15 954.12 1121.69 955 1121.54C955.82 1121.4 956.67 1121.75 957.5 1121.63C958.37 1121.51 959.13 1120.96 960 1120.83C960.82 1120.7 961.72 1120.57 962.5 1120.87C963.47 1121.24 964.06 1122.29 965 1122.74C965.77 1123.1 966.65 1123.26 967.5 1123.25C968.36 1123.23 969.15 1122.71 970 1122.65C970.84 1122.59 971.67 1122.99 972.5 1122.9C973.37 1122.81 974.2 1122.48 975 1122.12C975.88 1121.73 976.55 1120.81 977.5 1120.65C978.35 1120.52 979.18 1121.05 980 1121.31C980.85 1121.59 981.61 1122.17 982.5 1122.28C983.34 1122.37 984.16 1121.89 985 1121.89C985.84 1121.88 986.66 1122.16 987.5 1122.24C988.33 1122.32 989.2 1122.62 990 1122.37C990.96 1122.07 991.59 1121.09 992.5 1120.67C993.28 1120.31 994.14 1119.99 995 1120.06C995.9 1120.13 996.62 1120.87 997.5 1121.07C998.31 1121.26 999.17 1121.1 1000 1121.21C1000.85 1121.33 1001.71 1121.45 1002.5 1121.76C1003.39 1122.11 1004.05 1123.03 1005 1123.18C1005.85 1123.32 1006.71 1122.9 1007.5 1122.56C1008.4 1122.17 1009.07 1121.32 1010 1121.02C1010.79 1120.76 1011.67 1121.01 1012.5 1120.91C1013.34 1120.82 1014.17 1120.65 1015 1120.47C1015.84 1120.28 1016.65 1119.72 1017.5 1119.82C1018.42 1119.93 1019.13 1120.72 1020 1121.06C1020.81 1121.38 1021.63 1121.87 1022.5 1121.8C1023.41 1121.73 1024.12 1120.94 1025 1120.68C1025.81 1120.44 1026.66 1120.42 1027.5 1120.34C1028.33 1120.26 1029.19 1120.41 1030 1120.2C1030.89 1119.96 1031.59 1119.15 1032.5 1119.01C1033.33 1118.88 1034.22 1119.1 1035 1119.42C1035.92 1119.81 1036.55 1120.78 1037.5 1121.09C1038.29 1121.35 1039.17 1121.14 1040 1121.07C1040.84 1121 1041.66 1120.72 1042.5 1120.66C1043.33 1120.61 1044.2 1121 1045 1120.76C1045.95 1120.48 1046.66 1119.69 1047.5 1119.17C1048.33 1118.65 1049.04 1117.8 1050 1117.63C1050.85 1117.47 1051.66 1118.11 1052.5 1118.28C1053.32 1118.44 1054.16 1118.52 1055 1118.6C1055.83 1118.69 1056.7 1118.54 1057.5 1118.78C1058.41 1119.06 1059.1 1119.84 1060 1120.13C1060.8 1120.39 1061.67 1120.54 1062.5 1120.41C1063.4 1120.27 1064.1 1119.45 1065 1119.34C1065.84 1119.25 1066.7 1119.57 1067.5 1119.84C1068.38 1120.15 1069.11 1120.8 1070 1121.07C1070.8 1121.31 1071.67 1121.27 1072.5 1121.37" fill="none" stroke="#6c1162" stroke-width="4.8" stroke-linejoin="round" stroke-linecap="butt" />
<line x1="137.2" y1="1111.5" x2="1072.5" y2="1111.5" stroke="#120c18" stroke-width="4.4" />
<line x1="137.2" y1="1111.4" x2="1137.6" y2="1111.4" stroke="#0a0a0a" stroke-width="3.1" />
<line x1="228.15" y1="703.6" x2="228.15" y2="712.7" stroke="#0a0a0a" stroke-width="3" />
<line x1="228.15" y1="1157.5" x2="228.15" y2="1148.4" stroke="#0a0a0a" stroke-width="3" />
<line x1="319.09" y1="703.6" x2="319.09" y2="721.9" stroke="#0a0a0a" stroke-width="3" />
<line x1="319.09" y1="1157.5" x2="319.09" y2="1139.2" stroke="#0a0a0a" stroke-width="3" />
<line x1="410.04" y1="703.6" x2="410.04" y2="712.7" stroke="#0a0a0a" stroke-width="3" />
<line x1="410.04" y1="1157.5" x2="410.04" y2="1148.4" stroke="#0a0a0a" stroke-width="3" />
<line x1="500.98" y1="703.6" x2="500.98" y2="721.9" stroke="#0a0a0a" stroke-width="3" />
<line x1="500.98" y1="1157.5" x2="500.98" y2="1139.2" stroke="#0a0a0a" stroke-width="3" />
<line x1="591.93" y1="703.6" x2="591.93" y2="712.7" stroke="#0a0a0a" stroke-width="3" />
<line x1="591.93" y1="1157.5" x2="591.93" y2="1148.4" stroke="#0a0a0a" stroke-width="3" />
<line x1="682.87" y1="703.6" x2="682.87" y2="721.9" stroke="#0a0a0a" stroke-width="3" />
<line x1="682.87" y1="1157.5" x2="682.87" y2="1139.2" stroke="#0a0a0a" stroke-width="3" />
<line x1="773.82" y1="703.6" x2="773.82" y2="712.7" stroke="#0a0a0a" stroke-width="3" />
<line x1="773.82" y1="1157.5" x2="773.82" y2="1148.4" stroke="#0a0a0a" stroke-width="3" />
<line x1="864.76" y1="703.6" x2="864.76" y2="721.9" stroke="#0a0a0a" stroke-width="3" />
<line x1="864.76" y1="1157.5" x2="864.76" y2="1139.2" stroke="#0a0a0a" stroke-width="3" />
<line x1="955.71" y1="703.6" x2="955.71" y2="712.7" stroke="#0a0a0a" stroke-width="3" />
<line x1="955.71" y1="1157.5" x2="955.71" y2="1148.4" stroke="#0a0a0a" stroke-width="3" />
<line x1="1046.65" y1="703.6" x2="1046.65" y2="721.9" stroke="#0a0a0a" stroke-width="3" />
<line x1="1046.65" y1="1157.5" x2="1046.65" y2="1139.2" stroke="#0a0a0a" stroke-width="3" />
<line x1="137.2" y1="1020.85" x2="155.5" y2="1020.85" stroke="#0a0a0a" stroke-width="3" />
<line x1="1137.6" y1="1020.85" x2="1119.3" y2="1020.85" stroke="#0a0a0a" stroke-width="3" />
<line x1="137.2" y1="930.3" x2="155.5" y2="930.3" stroke="#0a0a0a" stroke-width="3" />
<line x1="1137.6" y1="930.3" x2="1119.3" y2="930.3" stroke="#0a0a0a" stroke-width="3" />
<line x1="137.2" y1="839.75" x2="155.5" y2="839.75" stroke="#0a0a0a" stroke-width="3" />
<line x1="1137.6" y1="839.75" x2="1119.3" y2="839.75" stroke="#0a0a0a" stroke-width="3" />
<line x1="137.2" y1="749.2" x2="155.5" y2="749.2" stroke="#0a0a0a" stroke-width="3" />
<line x1="1137.6" y1="749.2" x2="1119.3" y2="749.2" stroke="#0a0a0a" stroke-width="3" />
<line x1="137.2" y1="1066.12" x2="146.3" y2="1066.12" stroke="#0a0a0a" stroke-width="3" />
<line x1="1137.6" y1="1066.12" x2="1128.5" y2="1066.12" stroke="#0a0a0a" stroke-width="3" />
<line x1="137.2" y1="975.58" x2="146.3" y2="975.58" stroke="#0a0a0a" stroke-width="3" />
<line x1="1137.6" y1="975.58" x2="1128.5" y2="975.58" stroke="#0a0a0a" stroke-width="3" />
<line x1="137.2" y1="885.03" x2="146.3" y2="885.03" stroke="#0a0a0a" stroke-width="3" />
<line x1="1137.6" y1="885.03" x2="1128.5" y2="885.03" stroke="#0a0a0a" stroke-width="3" />
<line x1="137.2" y1="794.48" x2="146.3" y2="794.48" stroke="#0a0a0a" stroke-width="3" />
<line x1="1137.6" y1="794.48" x2="1128.5" y2="794.48" stroke="#0a0a0a" stroke-width="3" />
<rect x="137.2" y="703.6" width="1000.4" height="453.9" fill="none" stroke="#0a0a0a" stroke-width="3"/>
<text x="159.7" y="751" text-anchor="start" fill="#0a0a0a" font-size="36.9" >c)</text>
<text x="117" y="1122.3" text-anchor="end" fill="#0a0a0a" font-size="36.9" >0.00</text>
<text x="117" y="1031.75" text-anchor="end" fill="#0a0a0a" font-size="36.9" >0.02</text>
<text x="117" y="941.2" text-anchor="end" fill="#0a0a0a" font-size="36.9" >0.04</text>
<text x="117" y="850.65" text-anchor="end" fill="#0a0a0a" font-size="36.9" >0.06</text>
<text x="117" y="760.1" text-anchor="end" fill="#0a0a0a" font-size="36.9" >0.08</text>
<text x="30.8" y="930.55" text-anchor="middle" fill="#0a0a0a" font-size="36.9" transform="rotate(-90 30.8 930.55)" >Ion current [nA]</text>
<text x="243.2" y="1016.8" text-anchor="start" fill="#6c1162" font-size="36.9" >H<tspan font-size="22" dy="13">2</tspan><tspan dy="-13">O</tspan></text>
<text x="243.4" y="1072.5" text-anchor="start" fill="#6c1162" font-size="36.9" >(m/z = 18)</text>
<text x="873.2" y="784.2" text-anchor="start" fill="#1f64b4" font-size="36.9" >PF<tspan font-size="22" dy="13">5</tspan></text>
<text x="874.2" y="839.7" text-anchor="start" fill="#1f64b4" font-size="36.9" >(m/z = 107)</text>
<text x="662.8" y="1021.8" text-anchor="start" fill="#6a9c22" font-size="36.9" >POF<tspan font-size="22" dy="13">3</tspan></text>
<text x="663.4" y="1078.1" text-anchor="start" fill="#6a9c22" font-size="36.9" >(m/z = 85)</text>
<text x="137.2" y="1206.6" text-anchor="middle" fill="#0a0a0a" font-size="36.9" >0</text>
<text x="319.09" y="1206.6" text-anchor="middle" fill="#0a0a0a" font-size="36.9" >20</text>
<text x="500.98" y="1206.6" text-anchor="middle" fill="#0a0a0a" font-size="36.9" >40</text>
<text x="682.87" y="1206.6" text-anchor="middle" fill="#0a0a0a" font-size="36.9" >60</text>
<text x="864.76" y="1206.6" text-anchor="middle" fill="#0a0a0a" font-size="36.9" >80</text>
<text x="1046.65" y="1206.6" text-anchor="middle" fill="#0a0a0a" font-size="36.9" >100</text>
<text x="636" y="1256.6" text-anchor="middle" fill="#0a0a0a" font-size="36.9" >Time [min]</text>
</svg>
</body>
</html>
